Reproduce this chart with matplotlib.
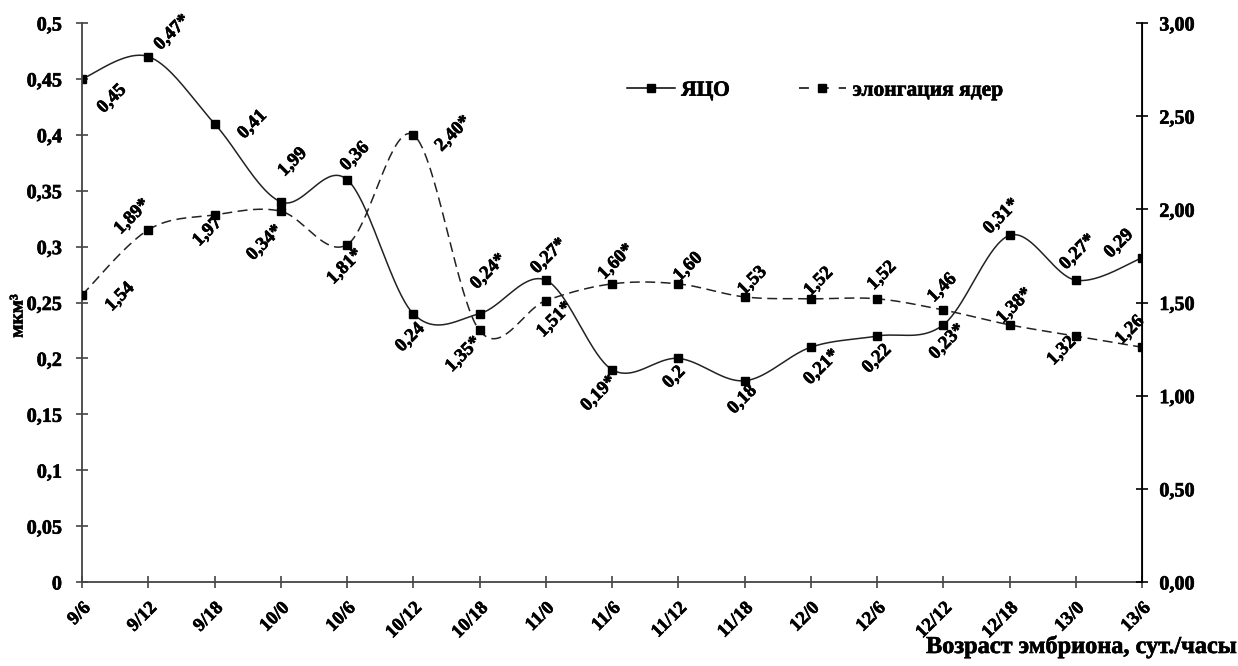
import numpy as np
import matplotlib
matplotlib.use("Agg")
import matplotlib.pyplot as plt
import matplotlib.patheffects as pe
from matplotlib.lines import Line2D
from matplotlib.ticker import FuncFormatter

plt.rcParams['font.family'] = ['Liberation Serif', 'DejaVu Serif']
plt.rcParams['font.weight'] = 'bold'

# embryo age, days/hours
ages = ["9/6", "9/12", "9/18", "10/0", "10/6", "10/12", "10/18", "11/0", "11/6",
        "11/12", "11/18", "12/0", "12/6", "12/12", "12/18", "13/0", "13/6"]

# nucleus-cytoplasm ratio (left axis, um^3)
ntso = [0.45, 0.47, 0.41, 0.34, 0.36, 0.24, 0.24, 0.27, 0.19,
        0.20, 0.18, 0.21, 0.22, 0.23, 0.31, 0.27, 0.29]
ntso_sig = [0, 1, 0, 1, 0, 0, 1, 1, 1, 0, 0, 1, 0, 1, 1, 1, 0]

# nuclear elongation (right axis)
elong = [1.54, 1.89, 1.97, 1.99, 1.81, 2.40, 1.35, 1.51, 1.60,
         1.60, 1.53, 1.52, 1.52, 1.46, 1.38, 1.32, 1.26]
elong_sig = [0, 1, 0, 0, 1, 1, 1, 1, 1, 0, 0, 0, 0, 0, 1, 0, 0]

# label offsets from each marker, pixels (x right, y up)
ntso_off = [(30, -20), (24, 24), (38, -1), (-16, -41), (8, 23), (-3, -24), (9, 42),
            (3, 24), (-13, -24), (-4, -19), (-2, -19), (11, -20), (0, -23),
            (4, -17), (-8, 19), (2, 28), (-23, 14)]
elong_off = [(38, -2), (-16, 13), (-7, -17), (12, 49), (-2, -22), (40, 1), (-16, -24),
             (9, -19), (4, 22), (10, 17), (8, 16), (8, 17), (5, 23), (-1, 22),
             (5, 19), (-14, -15), (-12, 17)]

heavy = [pe.withStroke(linewidth=0.45, foreground='black')]


def smooth(y, n=40):
    # Catmull-Rom style bezier through the points (as spreadsheet "smoothed line")
    x = np.arange(len(y), dtype=float)
    y = np.asarray(y, dtype=float)
    P = np.column_stack([x, y])
    P = np.vstack([P[0], P, P[-1]])
    out = []
    t = np.linspace(0, 1, n)[:, None]
    for i in range(1, len(P) - 2):
        p0, p1, p2, p3 = P[i - 1], P[i], P[i + 1], P[i + 2]
        c1 = p1 + (p2 - p0) / 6
        c2 = p2 - (p3 - p1) / 6
        seg = ((1 - t) ** 3) * p1 + 3 * ((1 - t) ** 2) * t * c1 + 3 * (1 - t) * t ** 2 * c2 + t ** 3 * p2
        out.append(seg if i == 1 else seg[1:])
    seg = np.vstack(out)
    return seg[:, 0], seg[:, 1]


def comma(v, fmt):
    return format(v, fmt).replace('.', ',')


fig = plt.figure(figsize=(12.38, 6.66), dpi=100)
ax = fig.add_axes([82 / 1238, 84 / 666, 1060 / 1238, 559 / 666])
ax2 = ax.twinx()

x = np.arange(len(ages))
dash = (6.5, 3.6)

sx, sy = smooth(ntso)
ax.plot(sx, sy, color='#222222', lw=1.1)
ax.plot(x, ntso, ls='none', marker='s', ms=5.5, color='black')

ex, ey = smooth(elong)
ax2.plot(ex, ey, color='#222222', lw=1.1, dashes=dash)
ax2.plot(x, elong, ls='none', marker='s', ms=5.5, color='black')

for i, v in enumerate(ntso):
    txt = comma(v, 'g') + ('*' if ntso_sig[i] else '')
    ax.annotate(txt, (x[i], v), xytext=ntso_off[i], textcoords='offset pixels',
                rotation=45, ha='center', va='center', rotation_mode='anchor',
                fontsize=13.5, fontweight='bold', path_effects=heavy)
for i, v in enumerate(elong):
    txt = comma(v, '.2f') + ('*' if elong_sig[i] else '')
    ax2.annotate(txt, (x[i], v), xytext=elong_off[i], textcoords='offset pixels',
                 rotation=45, ha='center', va='center', rotation_mode='anchor',
                 fontsize=13.5, fontweight='bold', path_effects=heavy)

ax.set_xlim(0, len(ages) - 1)
ax.set_ylim(0, 0.5)
ax2.set_ylim(0, 3.0)
ax.set_yticks(np.arange(0, 0.501, 0.05))
ax2.set_yticks(np.arange(0, 3.01, 0.5))
ax.yaxis.set_major_formatter(FuncFormatter(lambda v, p: comma(round(v, 2), 'g')))
ax2.yaxis.set_major_formatter(FuncFormatter(lambda v, p: comma(v, '.2f')))
ax.set_xticks(x)
ax.set_xticklabels(ages, rotation=45, ha='right', va='top', rotation_mode='anchor')

for a in (ax, ax2):
    a.spines['top'].set_visible(False)
    a.tick_params(direction='inout', length=9, width=1.2, labelsize=14.5)
ax.tick_params(axis='y', pad=10)
ax.tick_params(axis='x', labelsize=13.5, pad=8)
ax2.tick_params(axis='y', pad=8)
ax.spines['left'].set_color('#444444')
ax.spines['bottom'].set_color('#444444')
ax.spines['left'].set_linewidth(1.3)
ax.spines['bottom'].set_linewidth(1.3)
ax2.spines['right'].set_linewidth(1.3)
ax2.spines['left'].set_visible(False)
ax2.spines['bottom'].set_visible(False)
ax.tick_params(colors='#444444', labelcolor='black')
for lab in ax.get_xticklabels() + ax.get_yticklabels() + ax2.get_yticklabels():
    lab.set_path_effects(heavy)

fig.text(18 / 1238, 1 - 316 / 666, 'мкм³', rotation=90, ha='center', va='center',
         fontsize=14, fontweight='bold', path_effects=heavy)
fig.text(1236 / 1238, 1 - 647 / 666, 'Возраст эмбриона, сут./часы', ha='right', va='center',
         fontsize=17.5, fontweight='bold', path_effects=heavy)

handles = [Line2D([], [], color='black', lw=1.1, marker='s', ms=5.5),
           Line2D([], [], color='black', lw=1.1, dashes=(6.5, 6.5), marker='s', ms=5.5)]
leg = ax2.legend(handles, ['ЯЦО', 'элонгация ядер'], ncol=2, frameon=False,
                 loc='center', bbox_to_anchor=(0.692, 0.879),
                 handlelength=2.2, handletextpad=0.3, columnspacing=3.2,
                 prop={'weight': 'bold', 'size': 15.5})
for t in leg.get_texts():
    t.set_path_effects(heavy)

fig.savefig('out.png', dpi=100)
